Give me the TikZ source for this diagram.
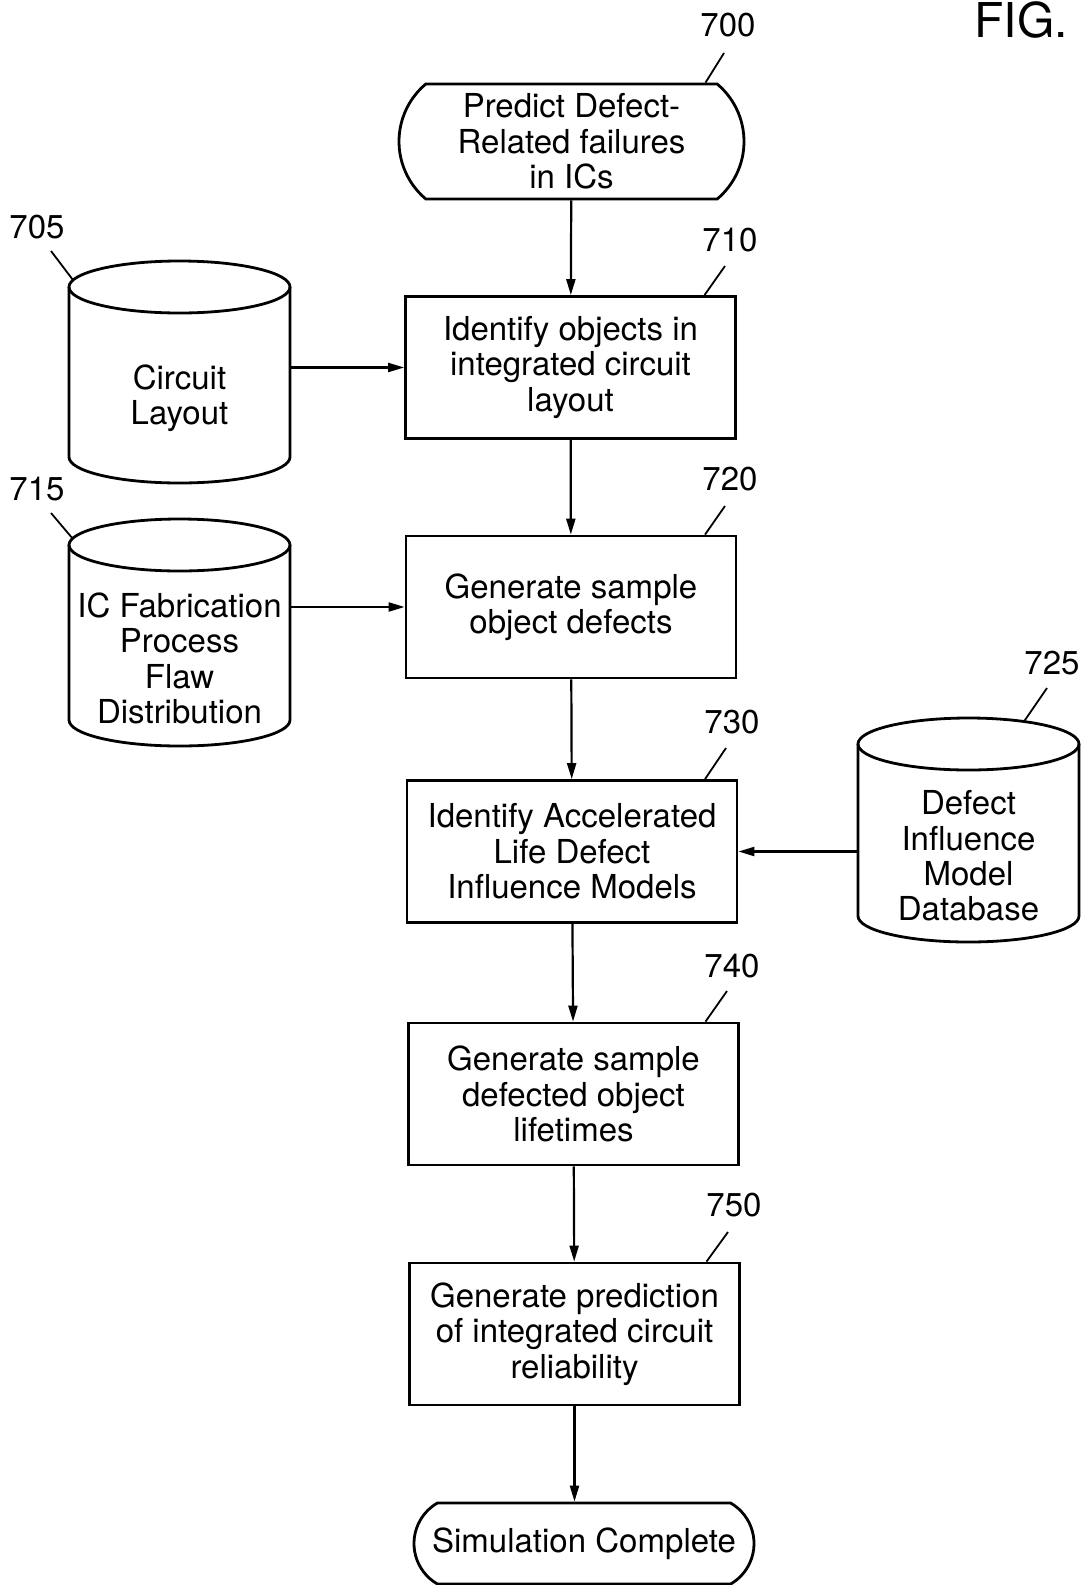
\documentclass[tikz,border=0pt]{standalone}
\usepackage{fontspec}
\setmainfont{TeX Gyre Heros}
\usetikzlibrary{positioning,shapes.misc,arrows.meta}

\tikzset{
  stepbox/.style={draw, line width=1.4pt, minimum width=165pt, minimum height=71pt, align=center, inner sep=2pt},
  term/.style={draw, rounded rectangle, line width=1.4pt, align=center, inner sep=1pt},
  db/.style={minimum width=110.5pt, inner sep=1pt, outer sep=0pt, align=center},
  num/.style={font=\fontsize{16.5}{18}\selectfont, inner sep=1pt},
  arr/.style={-{Triangle[length=8pt,width=4.5pt]}, line width=1.1pt},
  lead/.style={line width=0.9pt}
}

% database drum round a node: top lid above the node, bottom arc at its south
\newcommand\dbcyl[1]{%
  \draw[line width=1.4pt] ([yshift=13pt]#1.north west) -- ([yshift=13pt]#1.south west)
    arc[start angle=180, end angle=360, x radius=55.25pt, y radius=13pt]
    -- ([yshift=13pt]#1.north east);
  \draw[line width=1.4pt] ([yshift=13pt]#1.north) ellipse [x radius=55.25pt, y radius=13pt];
}

\begin{document}
\begin{tikzpicture}[x=0.5pt, y=0.5pt, font=\fontsize{16.5}{17.7}\selectfont]
\useasboundingbox (0,0) rectangle (1081,-1585);

% figure title
\node[font=\fontsize{24}{26}\selectfont] (fig) at (1021,-20) {FIG.};

% main flow
\node[term, rounded rectangle arc length=100, minimum width=174.5pt, minimum height=57.5pt] (t700) at (571.5,-141.5) {Predict Defect-\\Related failures\\in ICs};
\node[stepbox] (n710) at (570.5,-367.5) {Identify objects in\\integrated circuit\\layout};
\node[stepbox] (n720) at (571,-607) {Generate sample\\object defects};
\node[stepbox] (n730) at (572,-851.5) {Identify Accelerated\\Life Defect\\Influence Models};
\node[stepbox] (n740) at (573.5,-1094) {Generate sample\\defected object\\lifetimes};
\node[stepbox] (n750) at (574.5,-1334) {Generate prediction\\of integrated circuit\\reliability};
\node[term, rounded rectangle arc length=120, minimum width=172pt, minimum height=40.5pt] (done) at (584,-1543.5) {Simulation Complete};

% databases
\node[db, minimum height=85pt] (layout) at (179.5,-398) {Circuit\\Layout};
\node[db, minimum height=87.5pt] (flaw) at (179.5,-658.5) {IC Fabrication\\Process\\Flaw\\Distribution};
\node[db, minimum height=86pt] (dbase) at (968.5,-856) {Defect\\Influence\\Model\\Database};
\dbcyl{layout}
\dbcyl{flaw}
\dbcyl{dbase}

% arrows
\draw[arr] (t700) -- (n710);
\draw[arr] (n710) -- (n720);
\draw[arr] (n720) -- (n730);
\draw[arr] (n730) -- (n740);
\draw[arr] (n740) -- (n750);
\draw[arr] (n750) -- (n750 |- done.north);
\draw[arr] (layout.east |- n710) -- (n710);
\draw[arr] (flaw.east |- n720) -- (n720);
\draw[arr] (dbase.west |- n730) -- (n730);

% reference numbers
\node[num] (l700) at (728,-25) {700};
\node[num] (l710) at (730,-240) {710};
\node[num] (l720) at (730,-479) {720};
\node[num] (l730) at (732,-722) {730};
\node[num] (l740) at (732,-966) {740};
\node[num] (l750) at (734,-1205) {750};
\node[num] (l705) at (37,-227) {705};
\node[num] (l715) at (37,-489) {715};
\node[num] (l725) at (1052,-663) {725};
\draw[lead] ([shift={(-2pt,-14pt)}]l700.center) -- ([xshift=67pt]t700.north);
\draw[lead] ([shift={(-2.5pt,-13pt)}]l710.center) -- ([xshift=67pt]n710.north);
\draw[lead] ([shift={(-2.5pt,-13.5pt)}]l720.center) -- ([xshift=67pt]n720.north);
\draw[lead] ([shift={(-3pt,-13pt)}]l730.center) -- ([xshift=66.5pt]n730.north);
\draw[lead] ([shift={(-2.5pt,-12.5pt)}]l740.center) -- ([xshift=66pt]n740.north);
\draw[lead] ([shift={(-3pt,-13.5pt)}]l750.center) -- ([xshift=66pt]n750.north);
\draw[lead] ([shift={(7pt,-12pt)}]l705.center) -- ([shift={(-53.25pt,16.5pt)}]layout.north);
\draw[lead] ([shift={(7pt,-12pt)}]l715.center) -- ([shift={(-53.25pt,16pt)}]flaw.north);
\draw[lead] ([shift={(-2.5pt,-12.5pt)}]l725.center) -- ([shift={(27.75pt,24.25pt)}]dbase.north);
\end{tikzpicture}
\end{document}
